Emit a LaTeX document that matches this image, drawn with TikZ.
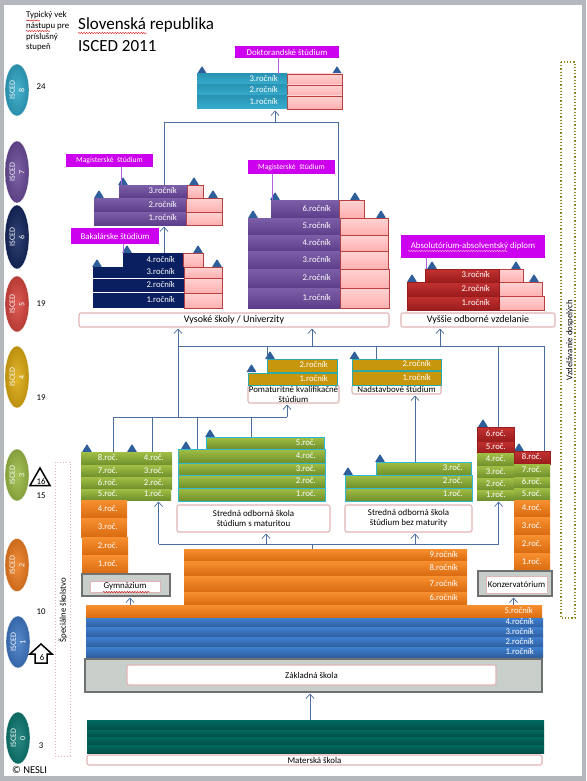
\documentclass[tikz,border=0pt]{standalone}
\usepackage{fontspec}
\setmainfont{Carlito}
\usetikzlibrary{shapes.geometric,arrows.meta,decorations.pathmorphing,calc}
\definecolor{conncol}{HTML}{4A6E9E}
\tikzset{
  bar/.style={rectangle,inner sep=0pt,outer sep=0pt},
  lbl/.style={inner sep=0pt,text=white,font=\fontsize{8.7}{10}\selectfont},
  cyanb/.style={top color=c29,bottom color=c36},
  purp/.style={top color=p7c,bottom color=p5c},
  navyb/.style={fill=n0a},
  redb/.style={top color=rc0,bottom color=r9a,draw=r9a,line width=.5pt},
  gbar/.style={top color=ga2,bottom color=g6e},
  gteal/.style={top color=ga2,bottom color=g6e,draw=tb8,line width=.9pt},
  orng/.style={top color=of7,bottom color=od9},
  blub/.style={top color=b3f,bottom color=b2f},
  goldb/.style={fill=goldc,draw=tgold,line width=.9pt},
  tealb/.style={top color=t00,bottom color=t4a},
  pinkb/.style={rectangle,inner sep=0pt,outer sep=0pt,top color=pinkt,bottom color=pinkm,draw=pinkd,line width=.7pt},
  magb/.style={rectangle,inner sep=0pt,outer sep=0pt,fill=magc,text=white,font=\fontsize{8.8}{10}\selectfont},
  wbox/.style={rectangle,rounded corners=2pt,inner sep=0pt,outer sep=0pt,fill=white,draw=wbd,line width=1.1pt,align=center,text=black,font=\fontsize{8.9}{10}\selectfont},
  gbox/.style={rectangle,inner sep=0pt,outer sep=0pt,fill=gboxc,draw=gboxd,line width=1.4pt},
  conn/.style={draw=conncol,line width=.75pt},
  carrow/.style={conn,-{Straight Barb[length=4.5pt,width=8pt,line width=.7pt]},shorten >=1.5pt},
  mconn/.style={draw=mconnc,line width=1pt},
  isced/.style={ellipse,rotate=90,inner sep=0pt,outer sep=0pt,minimum height=24pt,align=center,text=white,draw=white,line width=.3pt,font=\fontsize{8}{9.5}\selectfont},
  plain/.style={inner sep=0pt,text=black,font=\fontsize{8.8}{10}\selectfont},
  wavy/.style={decorate,decoration={snake,amplitude=.55pt,segment length=2.6pt},draw=red!80!black,line width=.4pt},
}
\definecolor{c29}{HTML}{2A94B4}\definecolor{c36}{HTML}{36AECF}
\definecolor{p7c}{HTML}{7C5FA8}\definecolor{p5c}{HTML}{5C3D8A}
\definecolor{n0a}{HTML}{0A1F5F}
\definecolor{rc0}{HTML}{C43232}\definecolor{r9a}{HTML}{9A1C1C}
\definecolor{ga2}{HTML}{A2BF45}\definecolor{g6e}{HTML}{6E8F2C}\definecolor{tb8}{HTML}{30B8D0}
\definecolor{of7}{HTML}{F79030}\definecolor{od9}{HTML}{D96A10}
\definecolor{b3f}{HTML}{3F7FD0}\definecolor{b2f}{HTML}{2F5F9F}
\definecolor{goldc}{HTML}{C8960A}\definecolor{tgold}{HTML}{2FA8A8}
\definecolor{t00}{HTML}{006A60}\definecolor{t4a}{HTML}{004E47}
\definecolor{pinkt}{HTML}{FFD2D2}\definecolor{pinkm}{HTML}{FFB0B0}\definecolor{pinkd}{HTML}{B84040}
\definecolor{magc}{HTML}{CC00EE}\definecolor{wbd}{HTML}{E0B4B4}
\definecolor{gboxc}{HTML}{C8CECA}\definecolor{gboxd}{HTML}{707070}
\definecolor{mconnc}{HTML}{B060E0}\definecolor{trc}{HTML}{2F5F9A}
\definecolor{framec}{HTML}{B4B8BC}
% name x1 y1 x2 y2 style labelRightX text
\newcommand\barnode[8]{%
  \pgfmathsetmacro\bw{#4-#2}\pgfmathsetmacro\bh{#5-#3}%
  \node[bar,#6,minimum width=\bw pt,minimum height=\bh pt] (#1) at ({(#2+#4)/2},{(#3+#5)/2}) {};
  \node[lbl,anchor=mid east] (#1t) at (#7,{(#3+#5)/2}) {#8};}
\newcommand\pinknode[5]{%
  \pgfmathsetmacro\bw{#4-#2}\pgfmathsetmacro\bh{#5-#3}%
  \node[pinkb,minimum width=\bw pt,minimum height=\bh pt] (#1) at ({(#2+#4)/2},{(#3+#5)/2}) {};}
\newcommand\boxnode[7]{%
  \pgfmathsetmacro\bw{#5-#3}\pgfmathsetmacro\bh{#6-#4}%
  \node[#1,minimum width=\bw pt,minimum height=\bh pt] (#2) at ({(#3+#5)/2},{(#4+#6)/2}) {#7};}
\newcommand\trimark[2]{\fill[trc,rounded corners=.6pt] ({#1-5},#2) -- (#1,{#2-8}) -- ({#1+5},#2) -- cycle;}
\newcommand\iscedn[5]{\node[isced,minimum width=#3 pt,inner color=#5!88!white,outer color=#5!85!black] (#1) at #2 {ISCED\\#4};}
\begin{document}
\begin{tikzpicture}[x=1pt,y=-1pt]
\useasboundingbox (0,0) rectangle (586,781);
\fill[framec] (0,0) rectangle (586,781);
\fill[white] (3.5,5.5) rectangle (582,776);

% ISCED ellipses
\definecolor{e8}{HTML}{2FA6C6}\definecolor{e7}{HTML}{6B4C9A}\definecolor{e6}{HTML}{14285F}
\definecolor{e5}{HTML}{D8453E}\definecolor{e4}{HTML}{DDAA10}\definecolor{e3}{HTML}{9BBB45}
\definecolor{e2}{HTML}{EE7D20}\definecolor{e1}{HTML}{3F78C4}\definecolor{e0}{HTML}{0D7A72}
\iscedn{is8}{(17,90)}{52}{8}{e8}
\iscedn{is7}{(17,172)}{62}{7}{e7}
\iscedn{is6}{(17,237)}{64}{6}{e6}
\iscedn{is5}{(17,304)}{56}{5}{e5}
\iscedn{is4}{(17,377)}{62}{4}{e4}
\iscedn{is3}{(17,475)}{52}{3}{e3}
\iscedn{is2}{(17,565)}{53}{2}{e2}
\iscedn{is1}{(18,642)}{52}{1}{e1}
\iscedn{is0}{(18,738)}{52}{0}{e0}

% Heading and ages
\node[plain,anchor=west] (h1) at (26,15) {Typický vek};
\node[plain,anchor=west] (h2) at (26,26) {nástupu pre};
\node[plain,anchor=west] (h3) at (26,37) {príslušný};
\node[plain,anchor=west] (h4) at (26,47) {stupeň};
\node[plain,anchor=west,font=\fontsize{17}{19}\selectfont] (tt1) at (78,25) {Slovenská republika};
\node[plain,anchor=west,font=\fontsize{17}{19}\selectfont] (tt2) at (78,46) {ISCED 2011};
\draw[wavy] (26,20.5) -- (40,20.5);
\draw[wavy] (26,31) -- (50,31);
\draw[wavy] (78,33) -- (147,33);
\node[plain] (a24) at (41,87) {24};
\node[plain] (a19a) at (41,304) {19};
\node[plain] (a19b) at (41,398) {19};
\node[plain] (a15) at (41,496) {15};
\node[plain] (a10) at (41,612) {10};
\node[plain] (a3) at (41,746) {3};
\draw[black,line width=1.5pt,fill=white,line join=miter] (40,468) -- (50,485.5) -- (30,485.5) -- cycle;
\node[plain] (a16) at (41,482) {16};
\draw[black,line width=1.5pt,fill=white,line join=miter] (41,644) -- (52,654) -- (47,654) -- (47,663) -- (35,663) -- (35,654) -- (30,654) -- cycle;
\node[plain] (a6) at (42,658) {6};
\node[plain,anchor=west,font=\fontsize{10.5}{12}\selectfont] (cr) at (12,769.5) {© NESLI};

% Dotted side frames
\draw[dotted,line width=1pt,draw=wbd] (55,462) rectangle (70,756);
\node[plain,rotate=90] (spec) at (63,610) {Špeciálne školstvo};
\draw[dotted,line width=1.2pt,draw=olive!75!gray] (561,62) rectangle (575,618);
\node[plain,rotate=90] (vzd) at (570,340) {Vzdelávanie dospelých};

% ISCED 8
\trimark{202}{74}\trimark{337}{74}
\pinknode{drp3}{287}{74}{342}{85}\pinknode{drp2}{287}{85}{342}{96}\pinknode{drp1}{287}{96}{342}{109}
\barnode{dr3}{197}{74}{287}{85}{cyanb}{278}{3.ročník}
\barnode{dr2}{197}{85}{287}{96}{cyanb}{278}{2.ročník}
\barnode{dr1}{197}{96}{287}{109}{cyanb}{278}{1.ročník}
\boxnode{magb}{mgd}{235}{46}{339}{58}{Doktorandské štúdium}
\coordinate (mgdx) at (278,58);
\draw[mconn] (mgdx) -- (mgdx |- dr3.north);

% Magister left
\trimark{123}{185}\trimark{194}{185}\trimark{99}{198}\trimark{213}{198}
\pinknode{mlp3}{187}{185}{203}{198}\pinknode{mlp2}{186}{198}{222}{212}\pinknode{mlp1}{186}{212}{222}{225}
\barnode{ml3}{119}{185}{187}{198}{purp}{177}{3.ročník}
\barnode{ml2}{94}{198}{186}{212}{purp}{177}{2.ročník}
\barnode{ml1}{94}{212}{186}{225}{purp}{177}{1.ročník}
\boxnode{magb,font=\fontsize{7.7}{9}\selectfont}{mgl}{66}{154}{153}{167}{Magisterské\ \ štúdium}
\coordinate (mglx) at (121,167);
\draw[mconn] (mglx) -- (mglx |- ml3.north);

% Bachelor
\trimark{127}{253}\trimark{198}{253}\trimark{97}{267}\trimark{217}{267}
\pinknode{bcp4}{183}{253}{203}{267}\pinknode{bcp3}{184}{267}{222}{278}\pinknode{bcp2}{184}{278}{222}{293}\pinknode{bcp1}{184}{293}{222}{308}
\barnode{bc4}{123}{253}{183}{267}{navyb}{175}{4.ročník}
\barnode{bc3}{93}{267}{184}{278}{navyb}{175}{3.ročník}
\barnode{bc2}{93}{279}{184}{292}{navyb}{175}{2.ročník}
\barnode{bc1}{93}{293}{184}{308}{navyb}{175}{1.ročník}
\boxnode{magb}{mgb}{71}{228}{159}{244}{Bakalárske štúdium}
\coordinate (mgbx) at (123,244);
\draw[mconn] (mgbx) -- (mgbx |- bc4.north);

% Magister right
\trimark{275}{200}\trimark{355}{200}\trimark{253}{218}\trimark{381}{218}
\pinknode{mrp6}{339}{200}{364}{218}\pinknode{mrp5}{340}{218}{388}{235}\pinknode{mrp4}{340}{235}{388}{251}\pinknode{mrp3}{340}{251}{388}{269}\pinknode{mrp2}{340}{269}{389}{288}\pinknode{mrp1}{340}{288}{389}{308}
\barnode{mr6}{271}{200}{339}{218}{purp}{331}{6.ročník}
\barnode{mr5}{248}{218}{340}{235}{purp}{331}{5.ročník}
\barnode{mr4}{248}{235}{340}{251}{purp}{331}{4.ročník}
\barnode{mr3}{248}{251}{340}{269}{purp}{331}{3.ročník}
\barnode{mr2}{248}{269}{340}{288}{purp}{331}{2.ročník}
\barnode{mr1}{248}{288}{340}{308}{purp}{331}{1.ročník}
\boxnode{magb,font=\fontsize{7.7}{9}\selectfont}{mgr}{248}{160}{335}{174}{Magisterské\ \ štúdium}
\coordinate (mgrx) at (272,174);
\draw[mconn] (mgrx) -- (mgrx |- mr6.north);

% Higher vocational
\trimark{432}{269}\trimark{516}{269}\trimark{412}{282}\trimark{534}{282}
\pinknode{abp3}{499}{269}{523}{282}\pinknode{abp2}{499}{282}{542}{296}\pinknode{abp1}{499}{296}{544}{310}
\barnode{ab3}{425}{269}{499}{282}{redb}{490}{3.ročník}
\barnode{ab2}{407}{282}{499}{296}{redb}{490}{2.ročník}
\barnode{ab1}{407}{296}{499}{310}{redb}{490}{1.ročník}
\boxnode{magb}{mga}{401}{235}{545}{258}{Absolutórium-absolventský diplom}
\draw[wavy,draw=pinkt] (408,251) -- (508,251);
\coordinate (mgax) at (426,258);
\draw[mconn] (mgax) -- (mgax |- ab3.north);

\boxnode{wbox,font=\fontsize{10}{12}\selectfont}{vs}{79}{313}{389}{327}{Vysoké školy / Univerzity}
\boxnode{wbox,font=\fontsize{10}{12}\selectfont}{vy}{401}{313}{555}{327}{Vyššie odborné vzdelanie}

% Postsecondary
\boxnode{wbox}{pom}{248}{385}{339}{403}{Pomaturitné kvalifikačné\\štúdium}
\boxnode{wbox}{nad}{352}{385}{441}{394}{Nadstavbové štúdium}
\trimark{270}{359}\trimark{251.5}{372}\trimark{354.5}{359}
\barnode{po2}{267}{359}{337}{372}{goldb}{328}{2.ročník}
\barnode{po1}{248}{373}{337}{385}{goldb}{328}{1.ročník}
\barnode{na2}{352}{359}{441}{370}{goldb}{431}{2.ročník}
\barnode{na1}{352}{371}{441}{385}{goldb}{431}{1.ročník}

% Left green / orange
\trimark{87}{452}\trimark{132}{452}
\barnode{gl8}{81}{452}{126}{465}{gbar}{118}{8.roč.}
\barnode{gl7}{81}{465}{126}{477}{gbar}{118}{7.roč.}
\barnode{gl6}{81}{477}{126}{489}{gbar}{118}{6.roč.}
\barnode{gl5}{81}{489}{126}{500}{gbar}{118}{5.roč.}
\barnode{gm4}{126}{452}{172}{465}{gbar}{164}{4.roč.}
\barnode{gm3}{126}{465}{172}{477}{gbar}{164}{3.roč.}
\barnode{gm2}{126}{477}{172}{489}{gbar}{164}{2.roč.}
\barnode{gm1}{126}{489}{171}{500}{gbar}{164}{1.roč.}
\barnode{ol4}{81}{500}{127}{518}{orng}{118}{4.roč.}
\barnode{ol3}{81}{518}{127}{537}{orng}{118}{3.roč.}
\barnode{ol2}{82}{537}{128}{555}{orng}{118}{2.roč.}
\barnode{ol1}{82}{555}{128}{574}{orng}{118}{1.roč.}
\boxnode{gbox}{gymg}{82}{574}{170}{596}{}
\boxnode{wbox,rounded corners=0pt,line width=.8pt}{gym}{90}{581}{160}{592}{Gymnázium}
\draw[wavy] (103,592) -- (150,592);

% Middle green
\trimark{210}{437}\trimark{186}{449}
\barnode{sm5}{206}{437}{324}{449}{gteal}{316}{5.roč.}
\barnode{sm4}{178.5}{449}{325}{463}{gteal}{316}{4.roč.}
\barnode{sm3}{178.5}{463}{325}{475}{gteal}{316}{3.roč.}
\barnode{sm2}{178.5}{475}{325}{488}{gteal}{316}{2.roč.}
\barnode{sm1}{178.5}{488}{325}{501}{gteal}{316}{1.roč.}
\boxnode{wbox}{smb}{177}{505}{330}{532}{Stredná odborná škola\\štúdium s maturitou}

\trimark{348}{475}\trimark{380}{462}
\barnode{sb3}{376}{462}{471}{475}{gteal}{463}{3.roč.}
\barnode{sb2}{345}{475}{472}{488}{gteal}{463}{2.roč.}
\barnode{sb1}{345}{488}{472}{501}{gteal}{463}{1.roč.}
\boxnode{wbox}{sbb}{345}{505}{472}{532}{Stredná odborná škola\\štúdium bez maturity}

% Right stacks
\trimark{483}{427}\trimark{519}{451}
\barnode{rr6}{477}{427}{514}{441}{redb}{506}{6.roč.}
\barnode{rr5}{477}{441}{514}{453}{redb}{506}{5.roč.}
\barnode{rg4}{477}{453}{514}{466}{gbar}{506}{4.roč.}
\barnode{rg3}{477}{466}{514}{478}{gbar}{506}{3.roč.}
\barnode{rg2}{477}{478}{514}{490}{gbar}{506}{2.roč.}
\barnode{rg1}{477}{490}{514}{500}{gbar}{506}{1.roč.}
\barnode{kr8}{514}{451}{550}{464}{redb}{542}{8.roč.}
\barnode{kg7}{514}{464}{550}{477}{gbar}{542}{7.roč.}
\barnode{kg6}{514}{477}{550}{488}{gbar}{542}{6.roč.}
\barnode{kg5}{514}{488}{550}{500}{gbar}{542}{5.roč.}
\barnode{ko4}{514}{500}{550}{517}{orng}{542}{4.roč.}
\barnode{ko3}{514}{517}{550}{535}{orng}{542}{3.roč.}
\barnode{ko2}{514}{535}{550}{553}{orng}{542}{2.roč.}
\barnode{ko1}{514}{553}{550}{571}{orng}{542}{1.roč.}
\boxnode{gbox}{kong}{478}{571}{552}{596}{}
\boxnode{wbox,rounded corners=0pt,line width=.8pt}{kon}{486}{576}{547}{593}{Konzervatórium}

% Primary orange and blue
\barnode{o9}{184}{549}{467}{561}{orng}{458}{9.ročník}
\barnode{o8}{184}{561}{467}{576}{orng}{458}{8.ročník}
\barnode{o7}{184}{576}{467}{592}{orng}{458}{7.ročník}
\barnode{o6}{184}{592}{467}{605}{orng}{458}{6.ročník}
\barnode{o5}{86}{605}{542}{618}{orng}{533}{5.ročník}
\barnode{b4}{86}{618}{543}{627}{blub}{534}{4.ročník}
\barnode{b3}{86}{627}{543}{637}{blub}{534}{3.ročník}
\barnode{b2}{86}{637}{543}{647}{blub}{534}{2.ročník}
\barnode{b1}{86}{647}{543}{657}{blub}{534}{1.ročník}
\boxnode{gbox}{zakg}{85}{659}{542}{692}{}
\boxnode{wbox}{zak}{127}{665}{496}{685}{Základná škola}
\boxnode{bar,tealb}{te1}{87}{720}{544}{730}{}
\boxnode{bar,tealb}{te2}{87}{730}{544}{737}{}
\boxnode{bar,tealb}{te3}{87}{737}{544}{745}{}
\boxnode{bar,tealb}{te4}{87}{745}{544}{753}{}
\boxnode{wbox}{mat}{87}{755}{542}{765}{Materská škola}

% Connectors
\coordinate (tL) at (164,122);\coordinate (tM) at (275,122);\coordinate (tR) at (338,122);
\draw[conn] (tL |- ml3.north) -- (tL) -- (tR) -- (tR |- mr6.north);
\draw[carrow] (tM) -- (tM |- dr1.south);
\coordinate (bk) at (164,253);
\draw[carrow] (bk) -- (bk |- ml1.south);

\coordinate (mA) at (178,346);\coordinate (mB) at (267,346);\coordinate (mC) at (312,346);
\coordinate (mD) at (376,346);\coordinate (mE) at (440,346);\coordinate (mF) at (498.6,346);\coordinate (mG) at (544,346);
\draw[conn] (mA) -- (mG);
\draw[carrow] (mA) -- (mA |- vs.south);
\draw[carrow] (mC) -- (mC |- vs.south);
\draw[carrow] (mE) -- (mE |- vy.south);
\draw[conn] (mB) -- (mB |- po2.north);
\draw[conn] (mD) -- (mD |- na2.north);
\draw[conn] (mF) -- (mF |- rr6.north);
\draw[conn] (mG) -- (mG |- kr8.north);

\coordinate (sA) at (113,417);\coordinate (sB) at (152,417);\coordinate (sC) at (197,417);
\coordinate (sD) at (251,417);\coordinate (sE) at (287,417);
\draw[conn] (mA) -- (mA |- sA);
\draw[conn] (sA) -- (sE);
\draw[carrow] (sE) -- (sE |- pom.south);
\draw[conn] (sA) -- (sA |- gl8.north);
\draw[conn] (sB) -- (sB |- gm4.north);
\draw[conn] (sC) -- (sC |- sm4.north);
\draw[conn] (sD) -- (sD |- sm5.north);

\coordinate (lA) at (158.5,544);\coordinate (lB) at (266,544);\coordinate (lC) at (312,544);
\coordinate (lD) at (415,544);\coordinate (lE) at (498.6,544);
\draw[conn] (lA) -- (lE);
\draw[carrow] (lA) -- (lA |- gm1.south);
\draw[carrow] (lB) -- (lB |- smb.south);
\draw[carrow] (lD) -- (lD |- sbb.south);
\draw[carrow] (lE) -- (lE |- rg1.south);
\draw[conn] (lC) -- (lC |- o9.north);
\coordinate (nx) at (415,462);
\draw[carrow] (nx) -- (nx |- nad.south);
\coordinate (gx) at (130,605);
\draw[carrow] (gx) -- (gx |- gymg.south);
\coordinate (kx) at (513.5,605);
\draw[carrow] (kx) -- (kx |- kong.south);
\coordinate (zx) at (310,720);
\draw[carrow] (zx) -- (zx |- zakg.south);
\end{tikzpicture}
\end{document}
